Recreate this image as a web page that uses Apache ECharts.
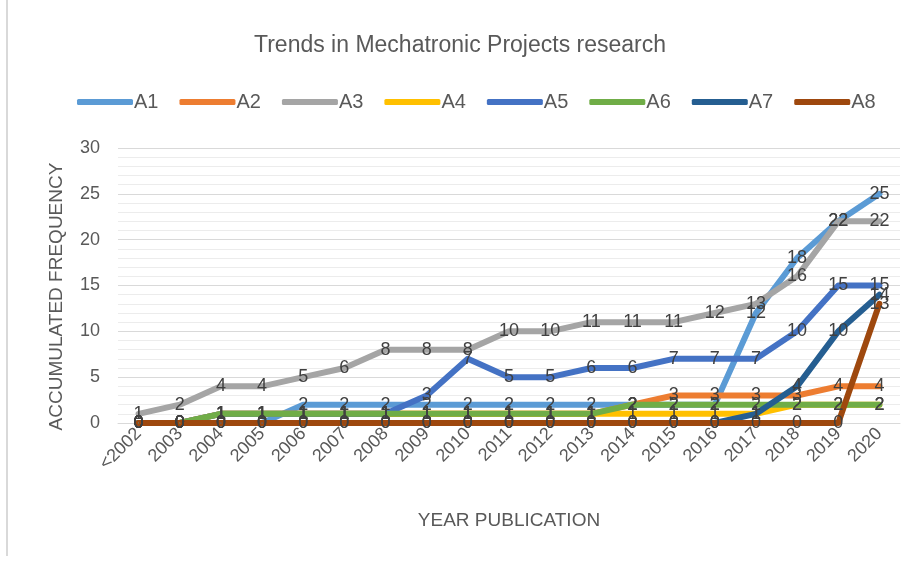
<!DOCTYPE html>
<html>
<head>
<meta charset="utf-8">
<script src="https://cdn.jsdelivr.net/npm/echarts@6/dist/echarts.min.js"></script>
<style>
    html, body { margin: 0; padding: 0; background: #fff; }
    #chart { width: 920px; height: 562px; }
    #edge { position: absolute; left: 6px; top: 0; height: 556px; border-left: 2px solid #d9d9d9; }
</style>
</head>
<body>
<div id="edge"></div>
<div id="chart"></div>
<script>
    // categories on the x axis
    const years = ['<2002', '2003', '2004', '2005', '2006', '2007', '2008', '2009', '2010', '2011',
        '2012', '2013', '2014', '2015', '2016', '2017', '2018', '2019', '2020']

    // accumulated frequency per group
    const a1 = [0, 0, 0, 0, 2, 2, 2, 2, 2, 2, 2, 2, 2, 2, 2, 12, 18, 22, 25]
    const a2 = [0, 0, 1, 1, 1, 1, 1, 1, 1, 1, 1, 1, 2, 3, 3, 3, 3, 4, 4]
    const a3 = [1, 2, 4, 4, 5, 6, 8, 8, 8, 10, 10, 11, 11, 11, 12, 13, 16, 22, 22]
    const a4 = [0, 0, 1, 1, 1, 1, 1, 1, 1, 1, 1, 1, 1, 1, 1, 1, 2, 2, 2]
    const a5 = [0, 0, 1, 1, 1, 1, 1, 3, 7, 5, 5, 6, 6, 7, 7, 7, 10, 15, 15]
    const a6 = [0, 0, 1, 1, 1, 1, 1, 1, 1, 1, 1, 1, 2, 2, 2, 2, 2, 2, 2]
    const a7 = [0, 0, 0, 0, 0, 0, 0, 0, 0, 0, 0, 0, 0, 0, 0, 1, 4, 10, 14]
    const a8 = [0, 0, 0, 0, 0, 0, 0, 0, 0, 0, 0, 0, 0, 0, 0, 0, 0, 0, 13]

    const names = ['A1', 'A2', 'A3', 'A4', 'A5', 'A6', 'A7', 'A8']
    const values = [a1, a2, a3, a4, a5, a6, a7, a8]
    const colors = ['#5B9BD5', '#ED7D31', '#A5A5A5', '#FFC000', '#4472C4', '#70AD47', '#255E91', '#9E480E']

    const font = '"Liberation Sans", Arial, sans-serif'
    const textColor = '#595959'

    const chart = echarts.init(document.getElementById('chart'))

    //one thick line per group, value label centred on each point
    const series = names.map((name, i) => {
        return {
            name: name,
            type: 'line',
            data: values[i],
            symbol: 'circle',
            symbolSize: 1,
            showSymbol: true,
            itemStyle: { color: colors[i] },
            lineStyle: { width: 6, color: colors[i], cap: 'round', join: 'round' },
            label: {
                show: true,
                position: 'inside',
                color: '#404040',
                fontFamily: font,
                fontSize: 18
            },
            emphasis: { disabled: true },
            animation: false
        }
    })

    const option = {
        textStyle: { fontFamily: font },
        title: {
            text: 'Trends in Mechatronic Projects research',
            left: 'center',
            top: 29,
            textStyle: { color: textColor, fontFamily: font, fontSize: 23, fontWeight: 'normal' }
        },
        legend: {
            data: names,
            top: 87,
            left: 72,
            icon: 'roundRect',
            itemWidth: 56,
            itemHeight: 6,
            itemGap: 21,
            textStyle: { color: textColor, fontFamily: font, fontSize: 20, padding: [0, 0, 0, -4] }
        },
        grid: { left: 118, right: 20, top: 148, bottom: 139, containLabel: false },
        xAxis: {
            type: 'category',
            data: years,
            boundaryGap: true,
            name: 'YEAR PUBLICATION',
            nameLocation: 'middle',
            nameGap: 88,
            nameTextStyle: { color: textColor, fontFamily: font, fontSize: 19 },
            axisLine: { show: true, lineStyle: { color: '#d9d9d9', width: 1 } },
            axisTick: { show: false },
            axisLabel: { color: textColor, fontFamily: font, fontSize: 18, rotate: 45, margin: 8, interval: 0 }
        },
        yAxis: {
            type: 'value',
            min: 0,
            max: 30,
            interval: 5,
            name: 'ACCUMULATED FREQUENCY',
            nameLocation: 'middle',
            nameGap: 52,
            nameTextStyle: { color: textColor, fontFamily: font, fontSize: 19, padding: [0, 22, 0, 0] },
            axisLine: { show: false },
            axisTick: { show: false },
            axisLabel: { color: textColor, fontFamily: font, fontSize: 18, margin: 18 },
            splitLine: { lineStyle: { color: '#d9d9d9', width: 1 } },
            minorTick: { show: false, splitNumber: 5 },
            minorSplitLine: { show: true, lineStyle: { color: '#ececec', width: 1 } }
        },
        series: series
    }
    chart.setOption(option)
</script>
</body>
</html>
